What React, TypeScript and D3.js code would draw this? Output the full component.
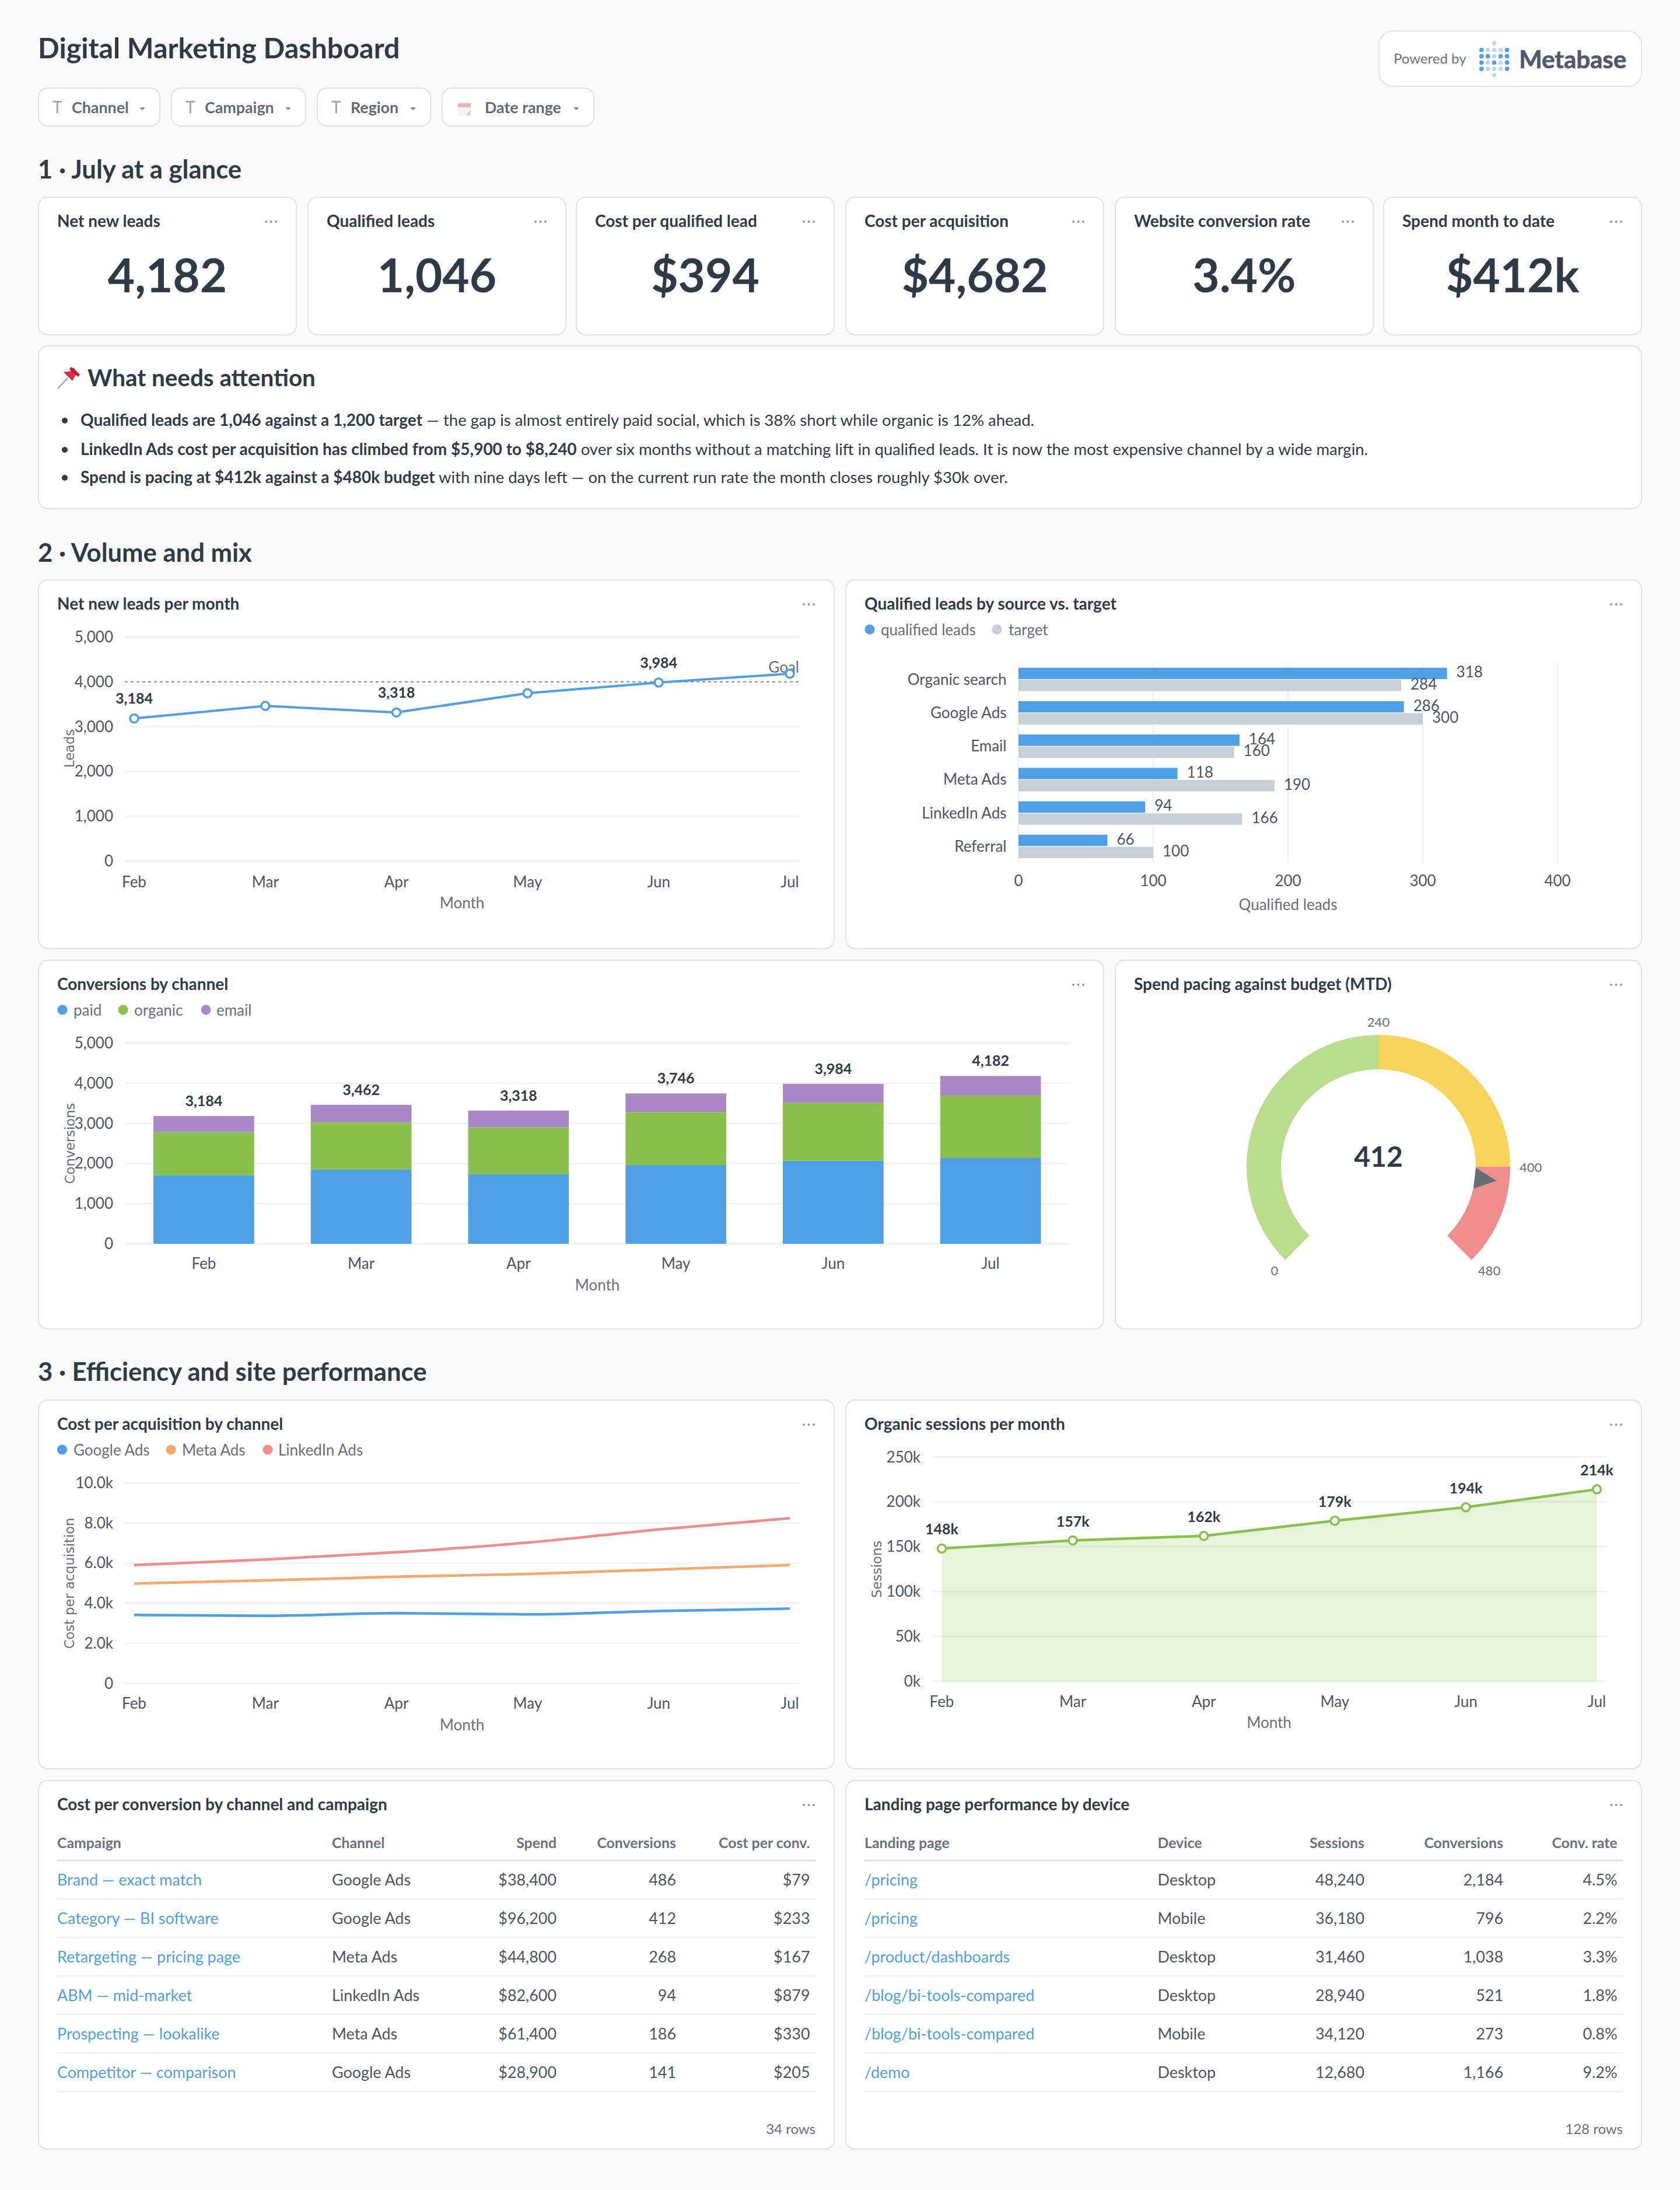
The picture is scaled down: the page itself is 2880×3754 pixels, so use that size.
import * as d3 from "d3";
import * as React from "react";

const months = ["Feb", "Mar", "Apr", "May", "Jun", "Jul"];

const kpiTitles = ["Net new leads", "Qualified leads", "Cost per qualified lead", "Cost per acquisition", "Website conversion rate", "Spend month to date"];
const kpiValues = ["4,182", "1,046", "$394", "$4,682", "3.4%", "$412k"];

const filterLabels = ["Channel", "Campaign", "Region", "Date range"];

const netNewLeads = [3184, 3462, 3318, 3746, 3984, 4182];
const labeledLeadMonths = ["Feb", "Apr", "Jun"];
const leadGoal = 4000;

const sources = ["Organic search", "Google Ads", "Email", "Meta Ads", "LinkedIn Ads", "Referral"];
const qualifiedLeads = [318, 286, 164, 118, 94, 66];
const qualifiedTargets = [284, 300, 160, 190, 166, 100];

const paidConversions = [1702, 1847, 1734, 1961, 2068, 2137];
const organicConversions = [1079, 1179, 1166, 1318, 1438, 1552];
const emailConversions = [403, 436, 418, 467, 478, 493];

const gaugeValue = 412;
const gaugeStops = [0, 240, 400, 480];

const googleCpa = [3410, 3370, 3500, 3440, 3610, 3730];
const metaCpa = [4980, 5140, 5320, 5460, 5680, 5900];
const linkedinCpa = [5900, 6180, 6540, 7020, 7680, 8240];

const organicSessions = [148000, 157000, 162000, 179000, 194000, 214000];

const campaignNames = ["Brand — exact match", "Category — BI software", "Retargeting — pricing page", "ABM — mid-market", "Prospecting — lookalike", "Competitor — comparison"];
const campaignChannels = ["Google Ads", "Google Ads", "Meta Ads", "LinkedIn Ads", "Meta Ads", "Google Ads"];
const campaignSpend = [38400, 96200, 44800, 82600, 61400, 28900];
const campaignConversions = [486, 412, 268, 94, 186, 141];
const campaignCost = [79, 233, 167, 879, 330, 205];

const pagePaths = ["/pricing", "/pricing", "/product/dashboards", "/blog/bi-tools-compared", "/blog/bi-tools-compared", "/demo"];
const pageDevices = ["Desktop", "Mobile", "Desktop", "Desktop", "Mobile", "Desktop"];
const pageSessions = [48240, 36180, 31460, 28940, 34120, 12680];
const pageConversions = [2184, 796, 1038, 521, 273, 1166];
const pageRates = [4.5, 2.2, 3.3, 1.8, 0.8, 9.2];

const DARK = "#2E3A45";
const MID = "#4C5560";
const GREY = "#696E7B";
const BLUE = "#509EE3";
const GREEN = "#88BF4D";
const PURPLE = "#A989C5";
const ORANGE = "#F2A86F";
const RED = "#EF8C8C";
const LIGHTBAR = "#C7CFD6";
const GRID = "#EEEFF0";
const BORDER = "#DFE3E3";
const FONT = "Lato, sans-serif";

const fmt = d3.format(",");
const kFmt = (v: number) => (v === 0 ? "0" : d3.format(".1f")(v / 1000) + "k");

function Txt(props: any) {
  const { x, y, size = 26, weight = 400, fill = MID, anchor = "start", font = FONT, children, ...rest } = props;
  return (
    <text x={x} y={y} fontSize={size} fontWeight={weight} fill={fill} textAnchor={anchor} fontFamily={font} {...rest}>
      {children}
    </text>
  );
}

function Card({ x, y, w, h, title }: any) {
  return (
    <g>
      <rect x={x + 1} y={y + 1} width={w - 2} height={h - 2} rx={16} fill="#fff" stroke={BORDER} strokeWidth={2} />
      {title && (
        <Txt x={x + 33} y={y + 52} size={28} weight={700} fill={DARK}>
          {title}
        </Txt>
      )}
      {title &&
        [-8.5, 0, 8.5].map((d) => <circle key={d} cx={x + w - 44.5 + d} cy={y + 43} r={2} fill="#949AA0" />)}
    </g>
  );
}

function Legend({ items, y }: any) {
  return (
    <g>
      {items.map((d: any) => (
        <g key={d.label}>
          <circle cx={d.dot} cy={y} r={8.5} fill={d.color} />
          <Txt x={d.text} y={y + 10} size={26} fill={GREY}>
            {d.label}
          </Txt>
        </g>
      ))}
    </g>
  );
}

function Grid({ y, x0, x1, format, labelX }: any) {
  return (
    <g>
      {y.ticks(5).map((t: number) => (
        <g key={t}>
          <line x1={x0} x2={x1} y1={y(t)} y2={y(t)} stroke={GRID} strokeWidth={2} />
          <Txt x={labelX} y={y(t) + 9} anchor="end">
            {format(t)}
          </Txt>
        </g>
      ))}
    </g>
  );
}

function MonthLabels({ x, y, titleX, titleY }: any) {
  return (
    <g>
      {months.map((m) => (
        <Txt key={m} x={x(m)} y={y} anchor="middle">
          {m}
        </Txt>
      ))}
      <Txt x={titleX} y={titleY} anchor="middle" fill={GREY}>
        Month
      </Txt>
    </g>
  );
}

function YTitle({ x, y, children }: any) {
  return (
    <text
      transform={`translate(${x},${y}) rotate(-90)`}
      textAnchor="middle"
      fontSize={22.6}
      fontFamily="DejaVu Sans, sans-serif"
      fill={GREY}
    >
      {children}
    </text>
  );
}

function Header() {
  const boxes = [
    { x: 65, w: 210 },
    { x: 293, w: 232 },
    { x: 543, w: 196 },
    { x: 757, w: 262 },
  ];
  const logoCols = [2539.7, 2550.7, 2561.5, 2572.5, 2583.5];
  const logoRows = [85.7, 96.4, 107.2, 118];
  const logoDark = ["10001", "11011", "10101", "10001"];
  return (
    <g>
      <Txt x={65} y={100} size={48.4} weight={700} fill={DARK}>
        Digital Marketing Dashboard
      </Txt>
      {filterLabels.map((label, i) => {
        const b = boxes[i];
        const isDate = label === "Date range";
        return (
          <g key={label}>
            <rect x={b.x + 1} y={151} width={b.w - 2} height={65} rx={16} fill="#fff" stroke={BORDER} strokeWidth={2} />
            {isDate ? (
              <g>
                <rect x={b.x + 28} y={173} width={22} height={25} fill="#F4F4F4" />
                <rect x={b.x + 28} y={177} width={22} height={7} fill="#E8B4B4" />
                <path d={`M${b.x + 44},197 l6,-8 l-3,9 z`} fill="#B0B4B8" />
              </g>
            ) : (
              <Txt x={b.x + 25} y={194} size={28} fill="#98A2A8">
                T
              </Txt>
            )}
            <Txt x={isDate ? b.x + 74 : b.x + 58} y={194} size={26.8} weight={700} fill="#5F6C75">
              {label}
            </Txt>
            <path d={`M${b.x + b.w - 36},184 h10 l-5,5 z`} fill="#7F8A91" />
          </g>
        );
      })}
      <rect x={2364} y={53} width={450} height={95} rx={24} fill="#fff" stroke="#E3E5E6" strokeWidth={2} />
      <Txt x={2389} y={109} size={24} fill={GREY}>
        Powered by
      </Txt>
      <circle cx={2561.5} cy={74.3} r={3.8} fill="#BFD8F1" />
      <circle cx={2561.5} cy={129} r={3.8} fill="#BFD8F1" />
      {logoRows.map((ry, r) =>
        logoCols.map((cx, c) => (
          <circle key={r + "-" + c} cx={cx} cy={ry} r={3.8} fill={logoDark[r][c] === "1" ? BLUE : "#BFD8F1"} />
        ))
      )}
      <Txt x={2604} y={117} size={42} weight={700} fill="#50586F" stroke="#50586F" strokeWidth={0.7}>
        Metabase
      </Txt>
    </g>
  );
}

function Kpis() {
  const xs = [65, 527, 987, 1449, 1911, 2371];
  return (
    <g>
      <Txt x={65} y={306} size={43.6} weight={700} fill={DARK}>
        1 · July at a glance
      </Txt>
      {kpiTitles.map((t, i) => (
        <g key={t}>
          <Card x={xs[i]} y={337} w={444} h={238} title={t} />
          <Txt x={xs[i] + 222} y={501} size={80} weight={700} fill={DARK} anchor="middle">
            {kpiValues[i]}
          </Txt>
        </g>
      ))}
    </g>
  );
}

function Attention() {
  const notes = [
    {
      strong: "Qualified leads are 1,046 against a 1,200 target",
      rest: " — the gap is almost entirely paid social, which is 38% short while organic is 12% ahead.",
      y: 730,
    },
    {
      strong: "LinkedIn Ads cost per acquisition has climbed from $5,900 to $8,240",
      rest: " over six months without a matching lift in qualified leads. It is now the most expensive channel by a wide margin.",
      y: 780,
    },
    {
      strong: "Spend is pacing at $412k against a $480k budget",
      rest: " with nine days left — on the current run rate the month closes roughly $30k over.",
      y: 828,
    },
  ];
  return (
    <g>
      <Card x={65} y={592} w={2750} h={281} />
      {/* pin emoji */}
      <path d="M99,666 L116,648" stroke="#9AA3A8" strokeWidth={2.5} />
      <path d="M109,638 L124,653 L129,644 L134,640 L126,630 L121,636 Z" fill="#DD2E44" />
      <path d="M122,629 L137,642 L134,646 L119,633 Z" fill="#BE1931" />
      <Txt x={150} y={662} size={40.4} weight={700} fill={DARK}>
        What needs attention
      </Txt>
      {notes.map((n) => (
        <g key={n.y}>
          <circle cx={111} cy={n.y - 9} r={5} fill={DARK} />
          <Txt x={138} y={n.y} size={27.5} fill={DARK}>
            <tspan fontWeight={700} fontSize={28}>
              {n.strong}
            </tspan>
            <tspan>{n.rest}</tspan>
          </Txt>
        </g>
      ))}
    </g>
  );
}

function LeadsChart() {
  const x = d3.scalePoint<string>().domain(months).range([230, 1354]);
  const y = d3.scaleLinear().domain([0, 5000]).range([1476, 1092]);
  const line = d3.line<number>().x((_, i) => x(months[i]) as number).y((d) => y(d));
  return (
    <g>
      <Card x={65} y={993} w={1366} h={634} title="Net new leads per month" />
      <Grid y={y} x0={214} x1={1370} format={fmt} labelX={194} />
      <line x1={214} x2={1370} y1={y(leadGoal)} y2={y(leadGoal)} stroke="#8A8BA0" strokeWidth={2} strokeDasharray="5 5" />
      <Txt x={1370} y={1153} anchor="end" fill={GREY}>
        Goal
      </Txt>
      <path d={line(netNewLeads) as string} fill="none" stroke={BLUE} strokeWidth={4} />
      {netNewLeads.map((d, i) => (
        <g key={i}>
          <circle cx={x(months[i])} cy={y(d)} r={7} fill="#fff" stroke={BLUE} strokeWidth={3.5} />
          {labeledLeadMonths.includes(months[i]) && (
            <Txt x={x(months[i])} y={y(d) - 25} anchor="middle" weight={700} size={25} fill={DARK}>
              {fmt(d)}
            </Txt>
          )}
        </g>
      ))}
      <MonthLabels x={x} y={1521} titleX={792} titleY={1557} />
      <YTitle x={127} y={1283}>
        Leads
      </YTitle>
    </g>
  );
}

function SourcesChart() {
  const x = d3.scaleLinear().domain([0, 400]).range([1746, 2670]);
  const band = d3.scaleBand<string>().domain(sources).range([1136, 1479.5]).paddingInner(0.3).paddingOuter(0.15);
  const inner = d3.scaleBand<string>().domain(["leads", "target"]).range([0, band.bandwidth()]).paddingInner(0.06);
  const series = [
    { key: "leads", values: qualifiedLeads, color: BLUE },
    { key: "target", values: qualifiedTargets, color: LIGHTBAR },
  ];
  return (
    <g>
      <Card x={1449} y={993} w={1366} h={634} title="Qualified leads by source vs. target" />
      <Legend
        y={1079}
        items={[
          { label: "qualified leads", color: BLUE, dot: 1491, text: 1510 },
          { label: "target", color: LIGHTBAR, dot: 1709, text: 1729 },
        ]}
      />
      {x.ticks(4).map((t) => (
        <g key={t}>
          <line x1={x(t)} x2={x(t)} y1={1136} y2={1480} stroke={GRID} strokeWidth={2} />
          <Txt x={x(t)} y={1519} anchor="middle">
            {t}
          </Txt>
        </g>
      ))}
      {sources.map((s, i) => (
        <g key={s}>
          <Txt x={1725.5} y={(band(s) as number) + band.bandwidth() / 2 + 9} anchor="end">
            {s}
          </Txt>
          {series.map((c) => {
            const top = (band(s) as number) + (inner(c.key) as number);
            return (
              <g key={c.key}>
                <rect x={x(0)} y={top} width={x(c.values[i]) - x(0)} height={inner.bandwidth()} fill={c.color} />
                <Txt x={x(c.values[i]) + 16} y={top + inner.bandwidth() / 2 + 7}>
                  {c.values[i]}
                </Txt>
              </g>
            );
          })}
        </g>
      ))}
      <Txt x={2208} y={1560} anchor="middle" fill={GREY}>
        Qualified leads
      </Txt>
    </g>
  );
}

function ConversionsChart() {
  const x = d3.scaleBand<string>().domain(months).range([214.5, 1833]).paddingInner(0.36).paddingOuter(0.18);
  const y = d3.scaleLinear().domain([0, 5000]).range([2132, 1788]);
  const rows = months.map((m, i) => ({ m, paid: paidConversions[i], organic: organicConversions[i], email: emailConversions[i] }));
  const stacked = d3.stack<any>().keys(["paid", "organic", "email"])(rows);
  const colors: any = { paid: BLUE, organic: GREEN, email: PURPLE };
  return (
    <g>
      <Card x={65} y={1645} w={1828} h={634} title="Conversions by channel" />
      <Legend
        y={1731}
        items={[
          { label: "paid", color: BLUE, dot: 107, text: 126 },
          { label: "organic", color: GREEN, dot: 211, text: 230 },
          { label: "email", color: PURPLE, dot: 353, text: 371 },
        ]}
      />
      <Grid y={y} x0={214.5} x1={1833} format={fmt} labelX={194} />
      {stacked.map((layer) =>
        layer.map((d, i) => (
          <rect
            key={layer.key + i}
            x={x(months[i])}
            y={y(d[1])}
            width={x.bandwidth()}
            height={y(d[0]) - y(d[1])}
            fill={colors[layer.key]}
          />
        ))
      )}
      {rows.map((r) => {
        const total = r.paid + r.organic + r.email;
        return (
          <Txt key={r.m} x={(x(r.m) as number) + x.bandwidth() / 2} y={y(total) - 17} anchor="middle" weight={700} size={25} fill={DARK}>
            {fmt(total)}
          </Txt>
        );
      })}
      {months.map((m) => (
        <Txt key={m} x={(x(m) as number) + x.bandwidth() / 2} y={2175} anchor="middle">
          {m}
        </Txt>
      ))}
      <Txt x={1024} y={2212} anchor="middle" fill={GREY}>
        Month
      </Txt>
      <YTitle x={128} y={1960}>
        Conversions
      </YTitle>
    </g>
  );
}

function Gauge() {
  const cx = 2363;
  const cy = 2000;
  const angle = d3.scaleLinear().domain([0, 480]).range([(-135 * Math.PI) / 180, (135 * Math.PI) / 180]);
  const arc = d3.arc<any>().innerRadius(167).outerRadius(226);
  const colors = ["#BADD8D", "#F9D45C", "#EF8C8C"];
  const a = angle(gaugeValue);
  const polar = (r: number, t: number) => [cx + r * Math.sin(t), cy - r * Math.cos(t)];
  const tip = polar(204, a);
  const base1 = polar(167, a - 0.108);
  const base2 = polar(167, a + 0.108);
  const labels = [
    { text: gaugeStops[0], x: 2185, y: 2186, anchor: "middle" },
    { text: gaugeStops[1], x: 2363, y: 1760, anchor: "middle" },
    { text: gaugeStops[2], x: 2605, y: 2009, anchor: "start" },
    { text: gaugeStops[3], x: 2553, y: 2186, anchor: "middle" },
  ];
  return (
    <g>
      <Card x={1911} y={1645} w={904} h={634} title="Spend pacing against budget (MTD)" />
      <g transform={`translate(${cx},${cy})`}>
        {colors.map((c, i) => (
          <path
            key={c}
            fill={c}
            d={arc({ startAngle: angle(gaugeStops[i]), endAngle: angle(gaugeStops[i + 1]) }) as string}
          />
        ))}
      </g>
      <path d={`M${tip}L${base1}L${base2}Z`} fill="#666E72" />
      <Txt x={cx} y={2000} size={48} weight={700} fill={DARK} anchor="middle">
        {gaugeValue}
      </Txt>
      {labels.map((l) => (
        <Txt key={l.text} x={l.x} y={l.y} size={22} fill={GREY} anchor={l.anchor}>
          {l.text}
        </Txt>
      ))}
    </g>
  );
}

function CpaChart() {
  const x = d3.scalePoint<string>().domain(months).range([230, 1354]);
  const y = d3.scaleLinear().domain([0, 10000]).range([2885.5, 2542]);
  const line = d3
    .line<number>()
    .x((_, i) => x(months[i]) as number)
    .y((d) => y(d))
    .curve(d3.curveMonotoneX);
  const series = [
    { values: googleCpa, color: BLUE },
    { values: metaCpa, color: ORANGE },
    { values: linkedinCpa, color: RED },
  ];
  return (
    <g>
      <Card x={65} y={2399} w={1366} h={634} title="Cost per acquisition by channel" />
      <Legend
        y={2485}
        items={[
          { label: "Google Ads", color: BLUE, dot: 106.5, text: 126 },
          { label: "Meta Ads", color: ORANGE, dot: 293, text: 312 },
          { label: "LinkedIn Ads", color: RED, dot: 459, text: 477 },
        ]}
      />
      <Grid y={y} x0={214} x1={1370} format={kFmt} labelX={194} />
      {series.map((s) => (
        <path key={s.color} d={line(s.values) as string} fill="none" stroke={s.color} strokeWidth={4.5} />
      ))}
      <MonthLabels x={x} y={2929} titleX={792} titleY={2966} />
      <YTitle x={127} y={2714}>
        Cost per acquisition
      </YTitle>
    </g>
  );
}

function SessionsChart() {
  const x = d3.scalePoint<string>().domain(months).range([1614.5, 2737.5]);
  const y = d3.scaleLinear().domain([0, 250000]).range([2882, 2497.5]);
  const line = d3.line<number>().x((_, i) => x(months[i]) as number).y((d) => y(d));
  const area = d3.area<number>().x((_, i) => x(months[i]) as number).y0(y(0)).y1((d) => y(d));
  const fk = (v: number) => v / 1000 + "k";
  return (
    <g>
      <Card x={1449} y={2399} w={1366} h={634} title="Organic sessions per month" />
      <Grid y={y} x0={1598} x1={2754} format={fk} labelX={1578} />
      <path d={area(organicSessions) as string} fill={GREEN} fillOpacity={0.22} />
      <path d={line(organicSessions) as string} fill="none" stroke={GREEN} strokeWidth={4.5} />
      {organicSessions.map((d, i) => (
        <g key={i}>
          <circle cx={x(months[i])} cy={y(d)} r={7} fill="#fff" stroke={GREEN} strokeWidth={3.5} />
          <Txt x={x(months[i])} y={y(d) - 24} anchor="middle" weight={700} size={25} fill={DARK}>
            {fk(d)}
          </Txt>
        </g>
      ))}
      <MonthLabels x={x} y={2926} titleX={2175.5} titleY={2962} />
      <YTitle x={1511} y={2690}>
        Sessions
      </YTitle>
    </g>
  );
}

function DataTable({ x, w, title, columns, rows, footer }: any) {
  const left = x + 33;
  const right = x + w - 33;
  const rowY = d3.scaleLinear().domain([0, 1]).range([3232, 3298]);
  return (
    <g>
      <Card x={x} y={3051} w={w} h={634} title={title} />
      {columns.map((c: any) => (
        <Txt key={c.label} x={c.x} y={3168} size={24.8} weight={700} fill="#69727A" anchor={c.anchor}>
          {c.label}
        </Txt>
      ))}
      <line x1={left} x2={right} y1={3189} y2={3189} stroke={BORDER} strokeWidth={3} />
      {rows.map((row: any[], r: number) => (
        <g key={r}>
          {row.map((cell, c) => (
            <Txt key={c} x={columns[c].x} y={rowY(r)} size={26.9} fill={c === 0 ? BLUE : MID} anchor={columns[c].anchor}>
              {cell}
            </Txt>
          ))}
          <line x1={left} x2={right} y1={rowY(r) + 23} y2={rowY(r) + 23} stroke={GRID} strokeWidth={2} />
        </g>
      ))}
      <Txt x={right} y={3658} size={24} fill={GREY} anchor="end">
        {footer}
      </Txt>
    </g>
  );
}

export default function App() {
  const campaignRows = campaignNames.map((n, i) => [
    n,
    campaignChannels[i],
    "$" + fmt(campaignSpend[i]),
    campaignConversions[i],
    "$" + campaignCost[i],
  ]);
  const pageRows = pagePaths.map((p, i) => [
    p,
    pageDevices[i],
    fmt(pageSessions[i]),
    fmt(pageConversions[i]),
    pageRates[i].toFixed(1) + "%",
  ]);
  return (
    <svg width={2880} height={3754} style={{ position: "absolute", left: 0, top: 0, display: "block" }}>
      <rect width={2880} height={3754} fill="#F9F9F9" />
      <Header />
      <Kpis />
      <Attention />
      <Txt x={65} y={963} size={43.6} weight={700} fill={DARK}>
        2 · Volume and mix
      </Txt>
      <LeadsChart />
      <SourcesChart />
      <ConversionsChart />
      <Gauge />
      <Txt x={65} y={2367} size={43.6} weight={700} fill={DARK}>
        3 · Efficiency and site performance
      </Txt>
      <CpaChart />
      <SessionsChart />
      <DataTable
        x={65}
        w={1366}
        title="Cost per conversion by channel and campaign"
        rows={campaignRows}
        footer="34 rows"
        columns={[
          { label: "Campaign", x: 98, anchor: "start" },
          { label: "Channel", x: 569, anchor: "start" },
          { label: "Spend", x: 954, anchor: "end" },
          { label: "Conversions", x: 1159, anchor: "end" },
          { label: "Cost per conv.", x: 1388.5, anchor: "end" },
        ]}
      />
      <DataTable
        x={1449}
        w={1366}
        title="Landing page performance by device"
        rows={pageRows}
        footer="128 rows"
        columns={[
          { label: "Landing page", x: 1482, anchor: "start" },
          { label: "Device", x: 1984.5, anchor: "start" },
          { label: "Sessions", x: 2339, anchor: "end" },
          { label: "Conversions", x: 2577, anchor: "end" },
          { label: "Conv. rate", x: 2772.5, anchor: "end" },
        ]}
      />
    </svg>
  );
}
